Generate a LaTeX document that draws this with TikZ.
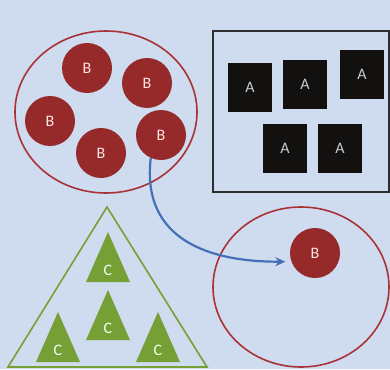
\documentclass[tikz,border=0pt]{standalone}
\usepackage{fontspec}
\setmainfont{Carlito}
\usetikzlibrary{arrows.meta}
\definecolor{bgc}{HTML}{CFDCEF}
\definecolor{redc}{HTML}{962A2A}
\definecolor{redl}{HTML}{A83236}
\definecolor{blkc}{HTML}{121110}
\definecolor{grnc}{HTML}{76A035}
\definecolor{bluec}{HTML}{4470B8}
\definecolor{frame}{HTML}{2E2E2E}
\begin{document}
\begin{tikzpicture}[x=1pt,y=-1pt,
  bnode/.style={circle,fill=redc,minimum size=50pt,inner sep=0pt,text=red!10!white,font=\fontsize{16}{16}\selectfont},
  anode/.style={rectangle,fill=blkc,minimum width=44pt,minimum height=49pt,inner sep=0pt,text=black!20!white,font=\fontsize{16}{16}\selectfont},
  clabel/.style={text=green!5!white,font=\fontsize{16}{16}\selectfont,inner sep=0pt},
  outline/.style={draw=redl,line width=1.6pt},
  arrowc/.style={draw=bluec,line width=2.2pt,-{Stealth[length=10pt,width=9pt]},shorten >=6pt},
  pics/ctri/.style={code={
    \fill[grnc] (-22,25) -- (0,-25) -- (22,25) -- cycle;
    \node[clabel] at (0,13) {C};
  }}
]
\useasboundingbox (0,0) rectangle (390,369);
\fill[bgc] (0,0) rectangle (390,369);

% left ellipse with B
\draw[outline] (106,112) ellipse [x radius=91,y radius=81];
\node[bnode] (b1) at (87,68) {B};
\node[bnode] (b2) at (147,83) {B};
\node[bnode] (b3) at (50,121) {B};
\node[bnode] (b4) at (101,153) {B};
\node[bnode] (b5) at (161,135) {B};

% box with A
\draw[draw=frame,line width=2pt] (213,31) rectangle (389,192);
\node[anode] (a1) at (250,87) {A};
\node[anode] (a2) at (305,84) {A};
\node[anode] (a3) at (362,74) {A};
\node[anode] (a4) at (285,148) {A};
\node[anode] (a5) at (340,148) {A};

% triangle with C
\draw[draw=grnc,line width=1.6pt,line join=miter] (8,367) -- (107,207) -- (207,367) -- cycle;
\pic at (108,257) {ctri};
\pic at (108,315) {ctri};
\pic at (58,337) {ctri};
\pic at (158,337) {ctri};

% right ellipse with B
\draw[outline] (301,287) ellipse [x radius=88,y radius=80];
\node[bnode] (bs) at (315,253) {B};

% arrow
\draw[arrowc] (b5.246) .. controls (141,240) and (210,262) .. (bs.200);
\end{tikzpicture}
\end{document}
